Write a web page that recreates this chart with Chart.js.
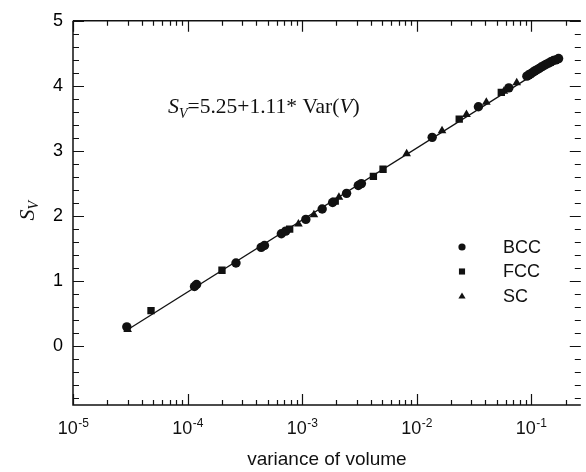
<!DOCTYPE html>
<html>
<head>
<meta charset="utf-8">
<title>S_V vs variance of volume</title>
<script src="https://cdn.jsdelivr.net/npm/chart.js@4.4.1/dist/chart.umd.min.js"></script>
<style>
	html, body { margin: 0; padding: 0; background: #fff; }
	canvas { display: block; }
</style>
</head>
<body>
<canvas id="canvassv" width="586" height="472"></canvas>
<script>

// data
var bccX = [2.95e-5, 1.15e-4, 1.2e-4, 2.65e-4, 4.4e-4, 4.7e-4, 6.6e-4, 7.2e-4, 1.08e-3, 1.5e-3, 1.85e-3, 2.45e-3, 3.1e-3, 3.3e-3, 1.37e-2, 3.47e-2, 6.4e-2,
	0.092, 0.096, 0.100, 0.104, 0.108, 0.113, 0.118, 0.123, 0.129, 0.135, 0.142, 0.149, 0.157, 0.165, 0.174];
var bccY = [0.30, 0.92, 0.95, 1.28, 1.52, 1.55, 1.73, 1.77, 1.95, 2.11, 2.21, 2.35, 2.47, 2.50, 3.21, 3.68, 3.97,
	4.15, 4.17, 4.19, 4.21, 4.23, 4.25, 4.27, 4.29, 4.31, 4.33, 4.35, 4.37, 4.39, 4.40, 4.42];

var fccX = [4.8e-5, 2.0e-4, 7.8e-4, 1.95e-3, 4.2e-3, 5.1e-3, 2.36e-2, 5.5e-2, 0.098];
var fccY = [0.55, 1.17, 1.80, 2.23, 2.61, 2.72, 3.49, 3.90, 4.18];

var scX = [3.0e-5, 9.3e-4, 1.27e-3, 2.1e-3, 8.2e-3, 1.67e-2, 2.73e-2, 4.07e-2, 5.8e-2, 7.5e-2];
var scY = [0.26, 1.88, 2.02, 2.29, 2.96, 3.31, 3.56, 3.75, 3.92, 4.05];

// fitted line end points
var fitX = [2.9e-5, 0.18];
var fitY = [0.24, 4.43];

var seriesLabels = ["BCC", "FCC", "SC"];
var xTickExp = ["-5", "-4", "-3", "-2", "-1"];
var yTickValues = [0, 1, 2, 3, 4, 5];
var xTitle = "variance of volume";

var SANS = "'Liberation Sans', Arial, sans-serif";
var SERIF = "'Liberation Serif', 'Times New Roman', serif";
var INK = "#111";

function pairs(xs, ys){
	var out = [];
	for (var i = 0; i < xs.length; i++){ out.push({x: xs[i], y: ys[i]}); }
	return out;
}

function drawMarker(ctx, style, x, y, r){
	ctx.beginPath();
	if (style === 'circle'){
		ctx.arc(x, y, r, 0, Math.PI * 2);
	} else if (style === 'rect'){
		ctx.rect(x - r * 0.85, y - r * 0.85, r * 1.7, r * 1.7);
	} else {
		ctx.moveTo(x, y - r);
		ctx.lineTo(x + r, y + r * 0.7);
		ctx.lineTo(x - r, y + r * 0.7);
		ctx.closePath();
	}
	ctx.fill();
}

var framePlugin = {
	id: 'frame',
	afterDraw: function(chart){
		var ctx = chart.ctx;
		var a = chart.chartArea;
		var xs = chart.scales.x;
		var ys = chart.scales.y;
		ctx.save();
		ctx.strokeStyle = INK;
		ctx.fillStyle = INK;

		// box (right side runs off the picture)
		ctx.lineWidth = 1.5;
		ctx.beginPath();
		ctx.moveTo(a.left, a.top); ctx.lineTo(a.right, a.top);
		ctx.moveTo(a.left, a.top); ctx.lineTo(a.left, a.bottom);
		ctx.lineTo(a.right, a.bottom);
		ctx.stroke();

		// x ticks, inward on bottom and top
		ctx.lineWidth = 1.2;
		ctx.beginPath();
		for (var e = -5; e <= 0; e++){
			for (var m = 1; m <= 9; m++){
				var v = m * Math.pow(10, e);
				if (v < xs.min || v > xs.max) continue;
				var px = Math.round(xs.getPixelForValue(v)) + 0.5;
				var len = (m === 1) ? 11 : 5;
				ctx.moveTo(px, a.bottom); ctx.lineTo(px, a.bottom - len);
				ctx.moveTo(px, a.top); ctx.lineTo(px, a.top + len);
			}
		}
		// y ticks, inward on left and right
		for (var k = -4; k <= 25; k++){
			var val = k * 0.2;
			var py = Math.round(ys.getPixelForValue(val)) + 0.5;
			var ylen = (k % 5 === 0) ? 11 : 6;
			ctx.moveTo(a.left, py); ctx.lineTo(a.left + ylen, py);
			ctx.moveTo(a.right, py); ctx.lineTo(a.right - ylen, py);
		}
		ctx.stroke();

		// x tick labels 10^n
		ctx.textBaseline = 'alphabetic';
		for (var i = 0; i < xTickExp.length; i++){
			var tv = Math.pow(10, parseInt(xTickExp[i], 10));
			var tx = xs.getPixelForValue(tv);
			ctx.font = "18px " + SANS;
			var wBase = ctx.measureText("10").width;
			ctx.font = "12px " + SANS;
			var wExp = ctx.measureText(xTickExp[i]).width;
			var x0 = tx - (wBase + wExp) / 2;
			ctx.textAlign = 'left';
			ctx.font = "18px " + SANS;
			ctx.fillText("10", x0, 434);
			ctx.font = "12px " + SANS;
			ctx.fillText(xTickExp[i], x0 + wBase + 0.5, 427);
		}

		// x title
		ctx.font = "19px " + SANS;
		ctx.textAlign = 'center';
		ctx.textBaseline = 'middle';
		ctx.fillText(xTitle, (a.left + a.right) / 2, 460);

		// y title S_V, rotated
		ctx.save();
		ctx.translate(34, 211);
		ctx.rotate(-Math.PI / 2);
		ctx.textAlign = 'left';
		ctx.textBaseline = 'alphabetic';
		ctx.font = "italic 22px " + SERIF;
		var wS = ctx.measureText("S").width;
		ctx.fillText("S", -wS / 2 - 4, 0);
		ctx.font = "italic 14px " + SERIF;
		ctx.fillText("V", wS / 2 - 4, 4);
		ctx.restore();

		// fit equation
		var ex = 168, eb = 113;
		var parts = [
			["italic 22px " + SERIF, "S", 0],
			["italic 14px " + SERIF, "V", 5],
			["21.5px " + SERIF, "=5.25+1.11* Var(", 0],
			["italic 21.5px " + SERIF, "V", 0],
			["21.5px " + SERIF, ")", 0]
		];
		ctx.textAlign = 'left';
		ctx.textBaseline = 'alphabetic';
		for (var p = 0; p < parts.length; p++){
			ctx.font = parts[p][0];
			ctx.fillText(parts[p][1], ex, eb + parts[p][2]);
			ex += ctx.measureText(parts[p][1]).width;
		}

		// legend
		var ds = chart.data.datasets;
		var ly = 247;
		for (var d = 0; d < seriesLabels.length; d++){
			drawMarker(ctx, ds[d].pointStyle, 462, ly, 3.6);
			ctx.font = "18px " + SANS;
			ctx.textBaseline = 'middle';
			ctx.fillText(seriesLabels[d], 503, ly + 1);
			ly += 24.5;
		}
		ctx.restore();
	}
};

function init_chart_sv(){

	if( typeof (Chart) === 'undefined'){ return; }

	var chart_settings = {
		type: 'scatter',
		data: {
			datasets: [{
				label: seriesLabels[0],
				data: pairs(bccX, bccY),
				pointStyle: 'circle',
				pointRadius: 4.7,
				backgroundColor: INK,
				borderColor: INK,
				borderWidth: 0
			}, {
				label: seriesLabels[1],
				data: pairs(fccX, fccY),
				pointStyle: 'rect',
				pointRadius: 5.2,
				backgroundColor: INK,
				borderColor: INK,
				borderWidth: 0
			}, {
				label: seriesLabels[2],
				data: pairs(scX, scY),
				pointStyle: 'triangle',
				pointRadius: 5,
				backgroundColor: INK,
				borderColor: INK,
				borderWidth: 0
			}, {
				label: 'fit',
				type: 'line',
				data: pairs(fitX, fitY),
				showLine: true,
				pointRadius: 0,
				borderColor: INK,
				borderWidth: 1.3,
				fill: false
			}]
		},
		options: {
			responsive: false,
			animation: false,
			devicePixelRatio: 1,
			layout: { padding: { left: 0, right: 0, top: 18, bottom: 0 } },
			plugins: {
				legend: { display: false },
				tooltip: { enabled: false }
			},
			scales: {
				x: {
					type: 'logarithmic',
					min: 1e-5,
					max: 0.272,
					grid: { display: false, drawTicks: false },
					border: { display: false },
					ticks: { display: false },
					afterFit: function(s){ s.height = 67; }
				},
				y: {
					type: 'linear',
					min: -0.9,
					max: 5,
					grid: { display: false, drawTicks: false },
					border: { display: false },
					afterBuildTicks: function(s){
						s.ticks = yTickValues.map(function(v){ return {value: v}; });
					},
					ticks: {
						padding: 10,
						color: '#000',
						font: { family: SANS, size: 18 },
						callback: function(v){ return String(v); }
					},
					afterFit: function(s){ s.width = 73; }
				}
			}
		},
		plugins: [framePlugin]
	};

	var chart_element = document.getElementById('canvassv');
	var chart_sv = new Chart(chart_element, chart_settings);
}

init_chart_sv();

</script>
</body>
</html>
